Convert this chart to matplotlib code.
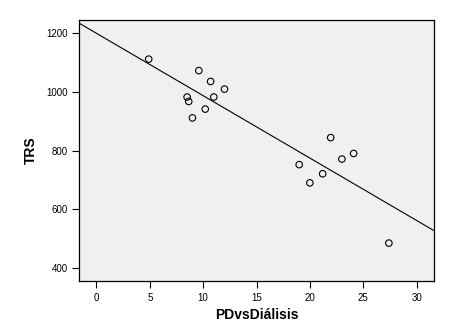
import numpy as np
import matplotlib
matplotlib.use('Agg')
import matplotlib.pyplot as plt

plt.rcParams['font.family'] = ['Liberation Sans', 'DejaVu Sans']

# datos
pd_dialisis = [4.9, 9.6, 10.7, 12.0, 8.5, 11.0, 8.65, 10.2, 9.0,
               21.95, 24.1, 23.0, 19.0, 21.2, 20.0, 27.4]
trs = [1111, 1072, 1035, 1009, 982, 982, 967, 941, 911,
       844, 790, 771, 752, 721, 690, 485]

x_ticks = [0, 5, 10, 15, 20, 25, 30]
y_ticks = [400, 600, 800, 1000, 1200]

fig = plt.figure(figsize=(4.72, 3.32), dpi=100)
ax = fig.add_axes([0.168, 0.1536, 0.752, 0.786])
ax.set_facecolor('#f0f0f0')

ax.scatter(pd_dialisis, trs, s=22, facecolors='none', edgecolors='black', linewidths=0.8, zorder=3)

# recta de regresion
b, a = np.polyfit(pd_dialisis, trs, 1)
xl = np.array([-1.6, 31.65])
ax.plot(xl, a + b * xl, color='black', linewidth=0.8)

ax.set_xlim(-1.6, 31.65)
ax.set_ylim(356, 1244)
ax.set_xticks(x_ticks)
ax.set_yticks(y_ticks)
ax.tick_params(labelsize=7, length=5, width=0.8, direction='out')
for s in ax.spines.values():
    s.set_linewidth(0.9)

ax.set_xlabel('PDvsDiálisis', fontsize=10, fontweight='bold', labelpad=4)
ax.set_ylabel('TRS', fontsize=10, fontweight='bold', labelpad=6)

print(a, b)
fig.savefig('out.png', dpi=100)
